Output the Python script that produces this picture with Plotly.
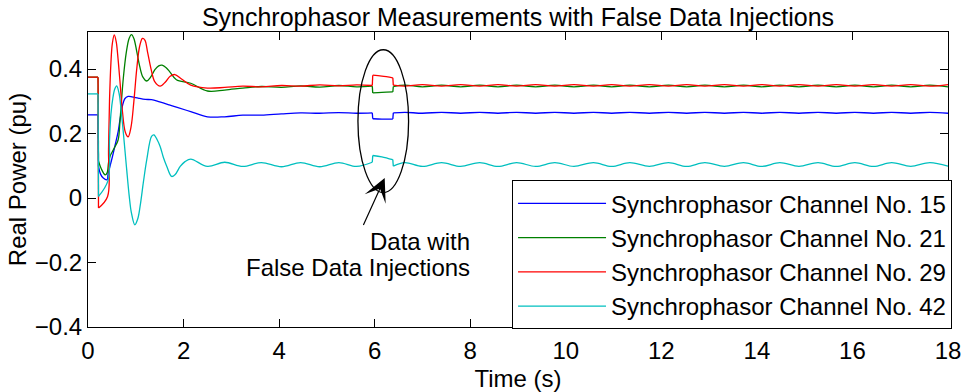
import plotly.graph_objects as go

# ---------------- data ----------------
x_ticks = [0, 2, 4, 6, 8, 10, 12, 14, 16, 18]
y_ticks = [-0.4, -0.2, 0, 0.2, 0.4]
y_tick_labels = ["\u22120.4", "\u22120.2", "0", "0.2", "0.4"]

series_names = ["Synchrophasor Channel No. 15", "Synchrophasor Channel No. 21",
                "Synchrophasor Channel No. 29", "Synchrophasor Channel No. 42"]
series_colors = ["#0000ff", "#008000", "#ff0000", "#00bfbf"]

# shared sample times after the transient
t_mid = [2.15, 2.50, 2.86, 3.24, 3.63, 4.05, 4.45, 4.85, 5.25, 5.62,
         5.95, 5.96, 6.15, 6.38, 6.39]
t_tail = [6.63, 7.00, 7.40, 7.80, 8.20, 8.58, 8.97, 9.37, 9.77, 10.17,
          10.58, 10.96, 11.34, 11.75, 12.15, 12.53, 12.91, 13.32, 13.72, 14.10,
          14.48, 14.88, 15.28, 15.66, 16.05, 16.44, 16.82, 17.22, 17.62, 18.00]

# Channel 15 (blue)
t_15_head = [0, 0.21, 0.22, 0.26, 0.32, 0.40, 0.42, 0.46, 0.53, 0.60, 0.63, 0.67,
             0.72, 0.77, 0.84, 0.92, 1.05, 1.20, 1.33, 1.50, 1.70, 1.85]
p_15_head = [0.258, 0.258, 0.098, 0.075, 0.062, 0.057, 0.075, 0.098, 0.140, 0.185,
             0.205, 0.243, 0.285, 0.308, 0.315, 0.314, 0.310, 0.306, 0.305, 0.298,
             0.289, 0.282]
p_15_mid = [0.268, 0.252, 0.252, 0.257, 0.257, 0.261, 0.264, 0.263, 0.265, 0.263,
            0.264, 0.246, 0.245, 0.245, 0.264]
p_15_tail = [0.266, 0.263, 0.266, 0.263, 0.266, 0.263, 0.266, 0.263, 0.266, 0.263,
             0.266, 0.263, 0.266, 0.263, 0.266, 0.263, 0.266, 0.263, 0.266, 0.263,
             0.266, 0.263, 0.266, 0.263, 0.266, 0.263, 0.266, 0.263, 0.266, 0.263]

# Channel 21 (green)
t_21_head = [0, 0.21, 0.22, 0.28, 0.36, 0.40, 0.43, 0.46, 0.55, 0.63, 0.67, 0.70,
             0.74, 0.80, 0.86, 0.91, 0.96, 1.02, 1.08, 1.15, 1.23, 1.31, 1.40,
             1.48, 1.55, 1.63, 1.72, 1.85]
p_21_head = [0.375, 0.375, 0.114, 0.090, 0.072, 0.078, 0.110, 0.129, 0.155, 0.180,
             0.240, 0.300, 0.373, 0.450, 0.495, 0.507, 0.495, 0.455, 0.410, 0.375,
             0.363, 0.375, 0.398, 0.410, 0.412, 0.405, 0.390, 0.367]
p_21_mid = [0.356, 0.332, 0.335, 0.341, 0.346, 0.343, 0.348, 0.344, 0.349, 0.345,
            0.347, 0.326, 0.328, 0.329, 0.346]
p_21_tail = [0.350, 0.345, 0.350, 0.345, 0.350, 0.345, 0.350, 0.345, 0.350, 0.345,
             0.350, 0.345, 0.350, 0.345, 0.350, 0.345, 0.350, 0.345, 0.350, 0.345,
             0.350, 0.345, 0.350, 0.345, 0.350, 0.345, 0.350, 0.345, 0.350, 0.345]

# Channel 29 (red)
t_29_head = [0, 0.21, 0.22, 0.41, 0.43, 0.45, 0.48, 0.51, 0.55, 0.59, 0.63, 0.67,
             0.72, 0.78, 0.84, 0.90, 0.96, 1.02, 1.08, 1.14, 1.19, 1.25, 1.32,
             1.40, 1.51, 1.62, 1.72, 1.82, 1.95]
p_29_head = [0.375, 0.375, -0.031, 0.005, 0.150, 0.300, 0.420, 0.480, 0.506, 0.485,
             0.430, 0.360, 0.270, 0.205, 0.190, 0.220, 0.300, 0.400, 0.470, 0.495,
             0.490, 0.450, 0.400, 0.360, 0.347, 0.360, 0.378, 0.383, 0.370]
p_29_mid = [0.350, 0.341, 0.343, 0.347, 0.345, 0.349, 0.347, 0.351, 0.348, 0.351,
            0.349, 0.381, 0.378, 0.373, 0.350]
p_29_tail = [0.347, 0.352, 0.347, 0.352, 0.347, 0.352, 0.347, 0.352, 0.347, 0.352,
             0.347, 0.352, 0.347, 0.352, 0.347, 0.352, 0.347, 0.352, 0.347, 0.352,
             0.347, 0.352, 0.347, 0.352, 0.347, 0.352, 0.347, 0.352, 0.347, 0.352]

# Channel 42 (cyan)
t_42_head = [0, 0.21, 0.22, 0.42, 0.45, 0.48, 0.52, 0.56, 0.60, 0.65, 0.70, 0.76,
             0.81, 0.86, 0.91, 0.98, 1.04, 1.09, 1.16, 1.23, 1.33, 1.38, 1.45,
             1.51, 1.58, 1.65, 1.75, 1.82, 1.93, 2.03]
p_42_head = [0.323, 0.323, 0.005, 0.055, 0.180, 0.260, 0.310, 0.338, 0.348, 0.325,
             0.263, 0.170, 0.088, 0.010, -0.047, -0.083, -0.065, -0.026, 0.050,
             0.119, 0.191, 0.196, 0.180, 0.160, 0.125, 0.098, 0.067, 0.072, 0.098,
             0.113]
p_42_mid = [0.121, 0.098, 0.111, 0.098, 0.110, 0.097, 0.110, 0.097, 0.110, 0.098,
            0.111, 0.132, 0.128, 0.119, 0.099]
p_42_tail = [0.110, 0.098, 0.110, 0.098, 0.110, 0.098, 0.110, 0.098, 0.110, 0.098,
             0.110, 0.098, 0.110, 0.098, 0.110, 0.098, 0.110, 0.098, 0.110, 0.098,
             0.110, 0.098, 0.110, 0.098, 0.110, 0.098, 0.110, 0.098, 0.110, 0.099]

# ellipse around the injected data, arrow and label
ellipse_t = [5.65, 6.71]
ellipse_p = [0.017, 0.460]
arrow_tip = [6.21, 0.062]
arrow_tail = [5.75, -0.088]
label_lines = ["Data with", "False Data Injections"]
label_pos = [[8.03, -0.136], [8.03, -0.216]]

# ---------------- figure ----------------
FONT = "Liberation Sans, Arial, Helvetica, sans-serif"
JUMP_DT = 0.011  # consecutive samples closer than this are drawn as a sharp step


def with_sharp_steps(t, p):
    """Insert breaks so that the smooth curve keeps the step changes sharp."""
    out_t, out_p = [], []
    for i in range(len(t)):
        out_t.append(t[i])
        out_p.append(p[i])
        if i + 1 < len(t) and t[i + 1] - t[i] <= JUMP_DT:
            out_t += [None, t[i], t[i + 1], None]
            out_p += [None, p[i], p[i + 1], None]
    return out_t, out_p


series = [
    (t_15_head + t_mid + t_tail, p_15_head + p_15_mid + p_15_tail),
    (t_21_head + t_mid + t_tail, p_21_head + p_21_mid + p_21_tail),
    (t_29_head + t_mid + t_tail, p_29_head + p_29_mid + p_29_tail),
    (t_42_head + t_mid + t_tail, p_42_head + p_42_mid + p_42_tail),
]

fig = go.Figure()
for (t, p), name, col in zip(series, series_names, series_colors):
    tt, pp = with_sharp_steps(t, p)
    fig.add_trace(go.Scatter(x=tt, y=pp, mode="lines", name=name, connectgaps=False,
                             line=dict(color=col, width=1.3, shape="spline",
                                       smoothing=1.0)))

fig.add_shape(type="circle", xref="x", yref="y",
              x0=ellipse_t[0], x1=ellipse_t[1], y0=ellipse_p[0], y1=ellipse_p[1],
              line=dict(color="black", width=1.3))

fig.add_annotation(x=arrow_tip[0], y=arrow_tip[1], ax=arrow_tail[0], ay=arrow_tail[1],
                   xref="x", yref="y", axref="x", ayref="y", text="",
                   showarrow=True, arrowhead=3, arrowsize=3.2, arrowwidth=1.2,
                   arrowcolor="black", standoff=0)
for txt, (lx, ly) in zip(label_lines, label_pos):
    fig.add_annotation(x=lx, y=ly, xref="x", yref="y", text=txt, showarrow=False,
                       xanchor="right", yanchor="middle",
                       font=dict(family=FONT, size=24, color="black"))

fig.update_layout(
    width=966, height=392,
    margin=dict(l=88, r=18, t=32, b=65, autoexpand=False),
    paper_bgcolor="white", plot_bgcolor="white",
    font=dict(family=FONT, size=24, color="black"),
    title=dict(text="Synchrophasor Measurements with False Data Injections",
               x=0.5, xref="paper", xanchor="center",
               y=1 - 17 / 392, yref="container", yanchor="middle",
               font=dict(family=FONT, size=25, color="black")),
    showlegend=True,
    legend=dict(x=1.0047, xanchor="right", y=-0.008, yanchor="bottom",
                bgcolor="white", bordercolor="black", borderwidth=1,
                font=dict(family=FONT, size=24, color="black"),
                itemwidth=88, tracegroupgap=0),
)
fig.update_xaxes(range=[0, 18], tickvals=x_ticks, ticks="inside", ticklen=8,
                 tickcolor="black", showline=True, linecolor="black", linewidth=1,
                 mirror="ticks", showgrid=False, zeroline=False, automargin=False,
                 tickfont=dict(family=FONT, size=24), ticklabelstandoff=2,
                 title=dict(text="Time (s)", standoff=8,
                            font=dict(family=FONT, size=24)))
fig.update_yaxes(range=[-0.4, 0.515], tickvals=y_ticks, ticktext=y_tick_labels,
                 ticks="inside", ticklen=8, tickcolor="black", showline=True,
                 linecolor="black", linewidth=1, mirror="ticks", showgrid=False,
                 zeroline=False, automargin=False, tickfont=dict(family=FONT, size=24),
                 title=dict(text="Real Power (pu)", standoff=1,
                            font=dict(family=FONT, size=24)))

fig.write_html("out.html")
